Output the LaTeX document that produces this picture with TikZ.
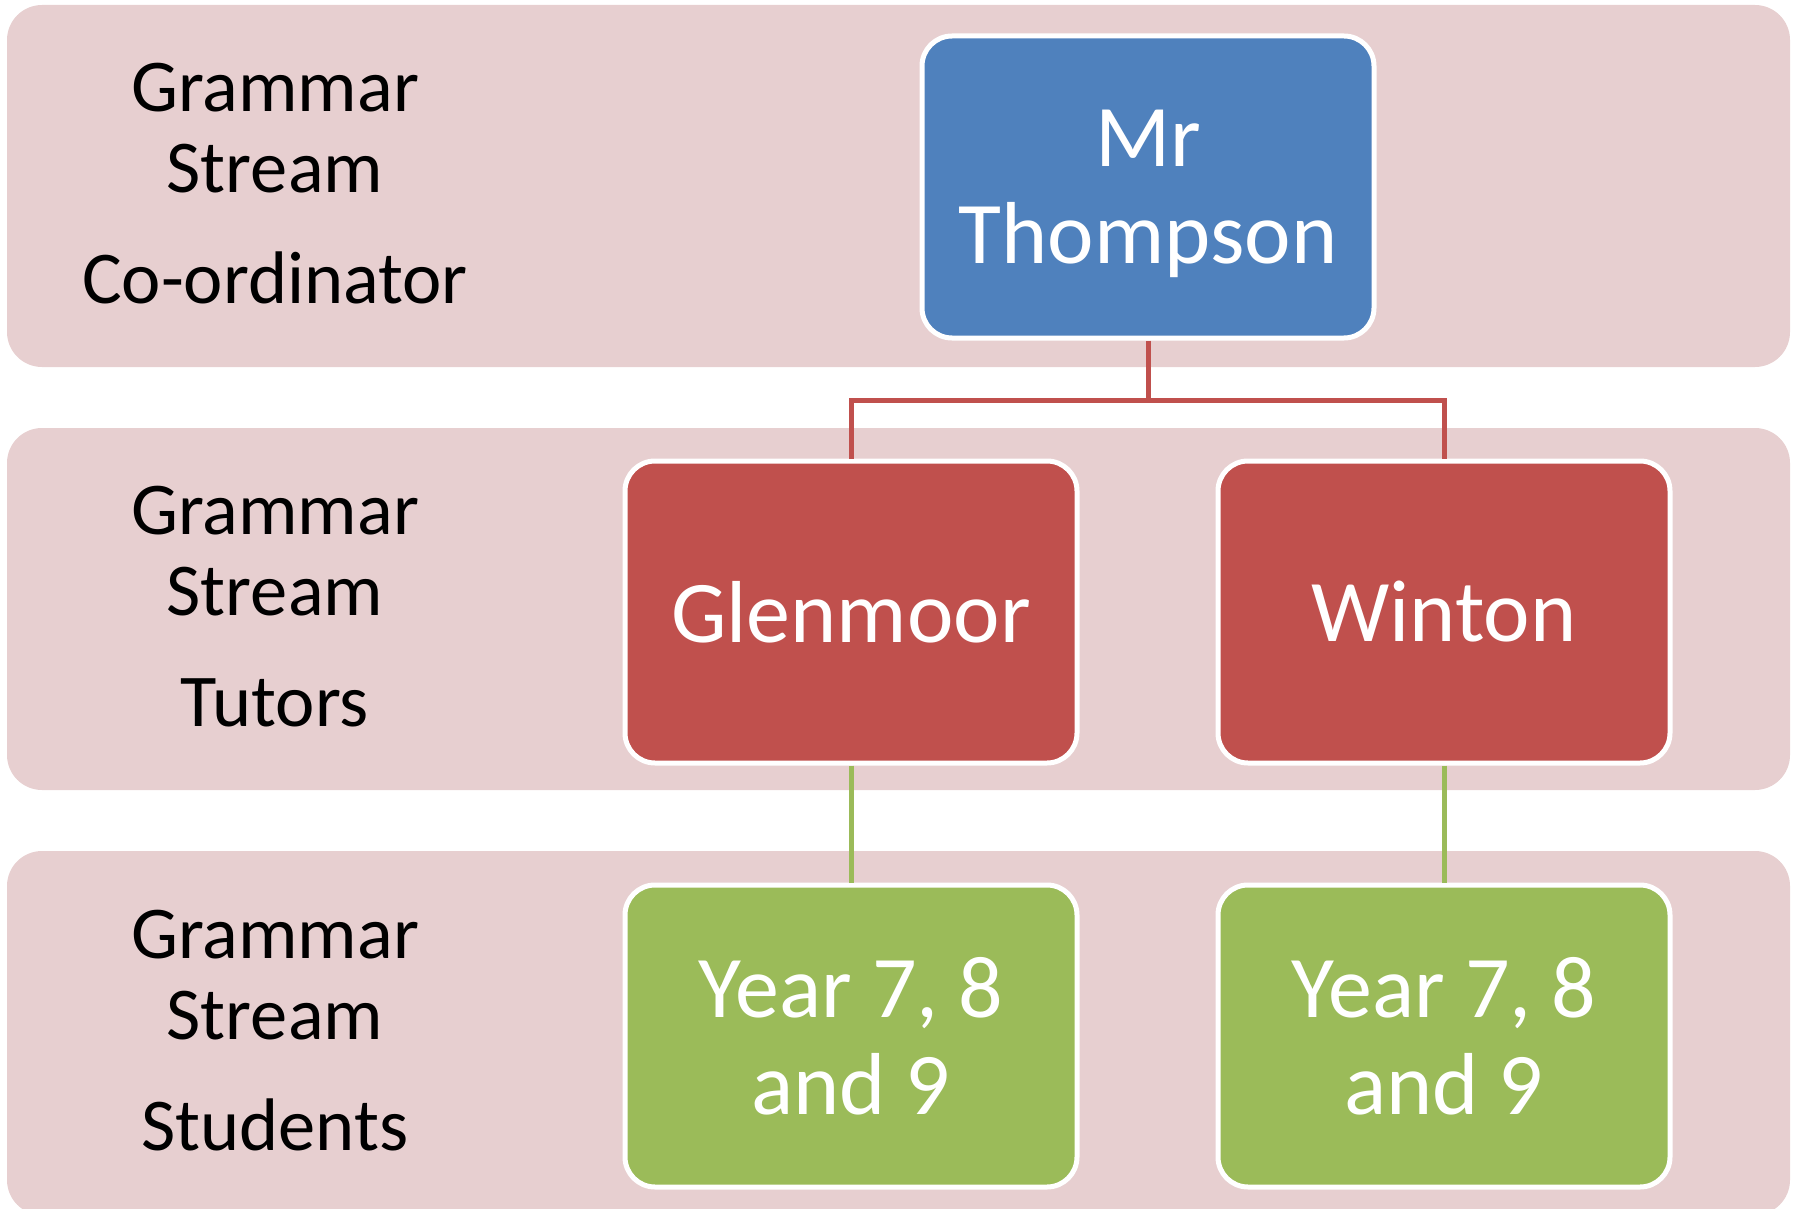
\documentclass[tikz,border=0pt]{standalone}
\usepackage{fontspec}
\setmainfont{Carlito}
\definecolor{bandpink}{HTML}{E7CFD0}
\definecolor{coordblue}{HTML}{4F81BD}
\definecolor{tutorred}{HTML}{C0504D}
\definecolor{studgreen}{HTML}{9BBB59}
\tikzset{
  band/.style={fill=bandpink, rounded corners=35pt},
  rolebox/.style={draw=white, line width=5pt, rounded corners=30pt,
    minimum width=452pt, minimum height=302pt, align=center,
    text=white, font=\fontsize{88}{97}\selectfont},
  rolelabel/.style={align=center, font=\fontsize{74.5}{81}\selectfont},
  redline/.style={draw=tutorred, line width=5pt},
  greenline/.style={draw=studgreen, line width=5pt}
}
\begin{document}
\begin{tikzpicture}[x=1pt, y=-1pt]
  \useasboundingbox (0,0) rectangle (1797,1209);
  % bands
  \fill[band] (7,5) rectangle (1790,367);
  \fill[band] (7,428) rectangle (1790,790);
  \fill[band] (7,851) rectangle (1790,1215);

  % labels on the left
  \node[rolelabel] (coordlabel) at (275,184) {Grammar\\Stream\\[30pt]Co-ordinator};
  \node[rolelabel] (tutorlabel) at (275,607) {Grammar\\Stream\\[30pt]Tutors};
  \node[rolelabel] (studlabel) at (275,1031) {Grammar\\Stream\\[30pt]Students};

  % boxes
  \node[rolebox, fill=coordblue, text depth=0pt] (thompson) at (1148,187) {Mr\\Thompson};
  \node[rolebox, fill=tutorred] (glenmoor) at (851,612) {Glenmoor};
  \node[rolebox, fill=tutorred] (winton) at (1444,612) {Winton};
  \node[rolebox, fill=studgreen] (yearglen) at (851,1036) {Year 7, 8\\and 9};
  \node[rolebox, fill=studgreen] (yearwint) at (1444,1036) {Year 7, 8\\and 9};

  % connectors
  \coordinate (split) at (1148,400);
  \draw[redline] (thompson.south) -- (split);
  \draw[redline] (split) -| (glenmoor.north);
  \draw[redline] (split) -| (winton.north);
  \draw[greenline] (glenmoor.south) -- (yearglen.north);
  \draw[greenline] (winton.south) -- (yearwint.north);
\end{tikzpicture}
\end{document}
